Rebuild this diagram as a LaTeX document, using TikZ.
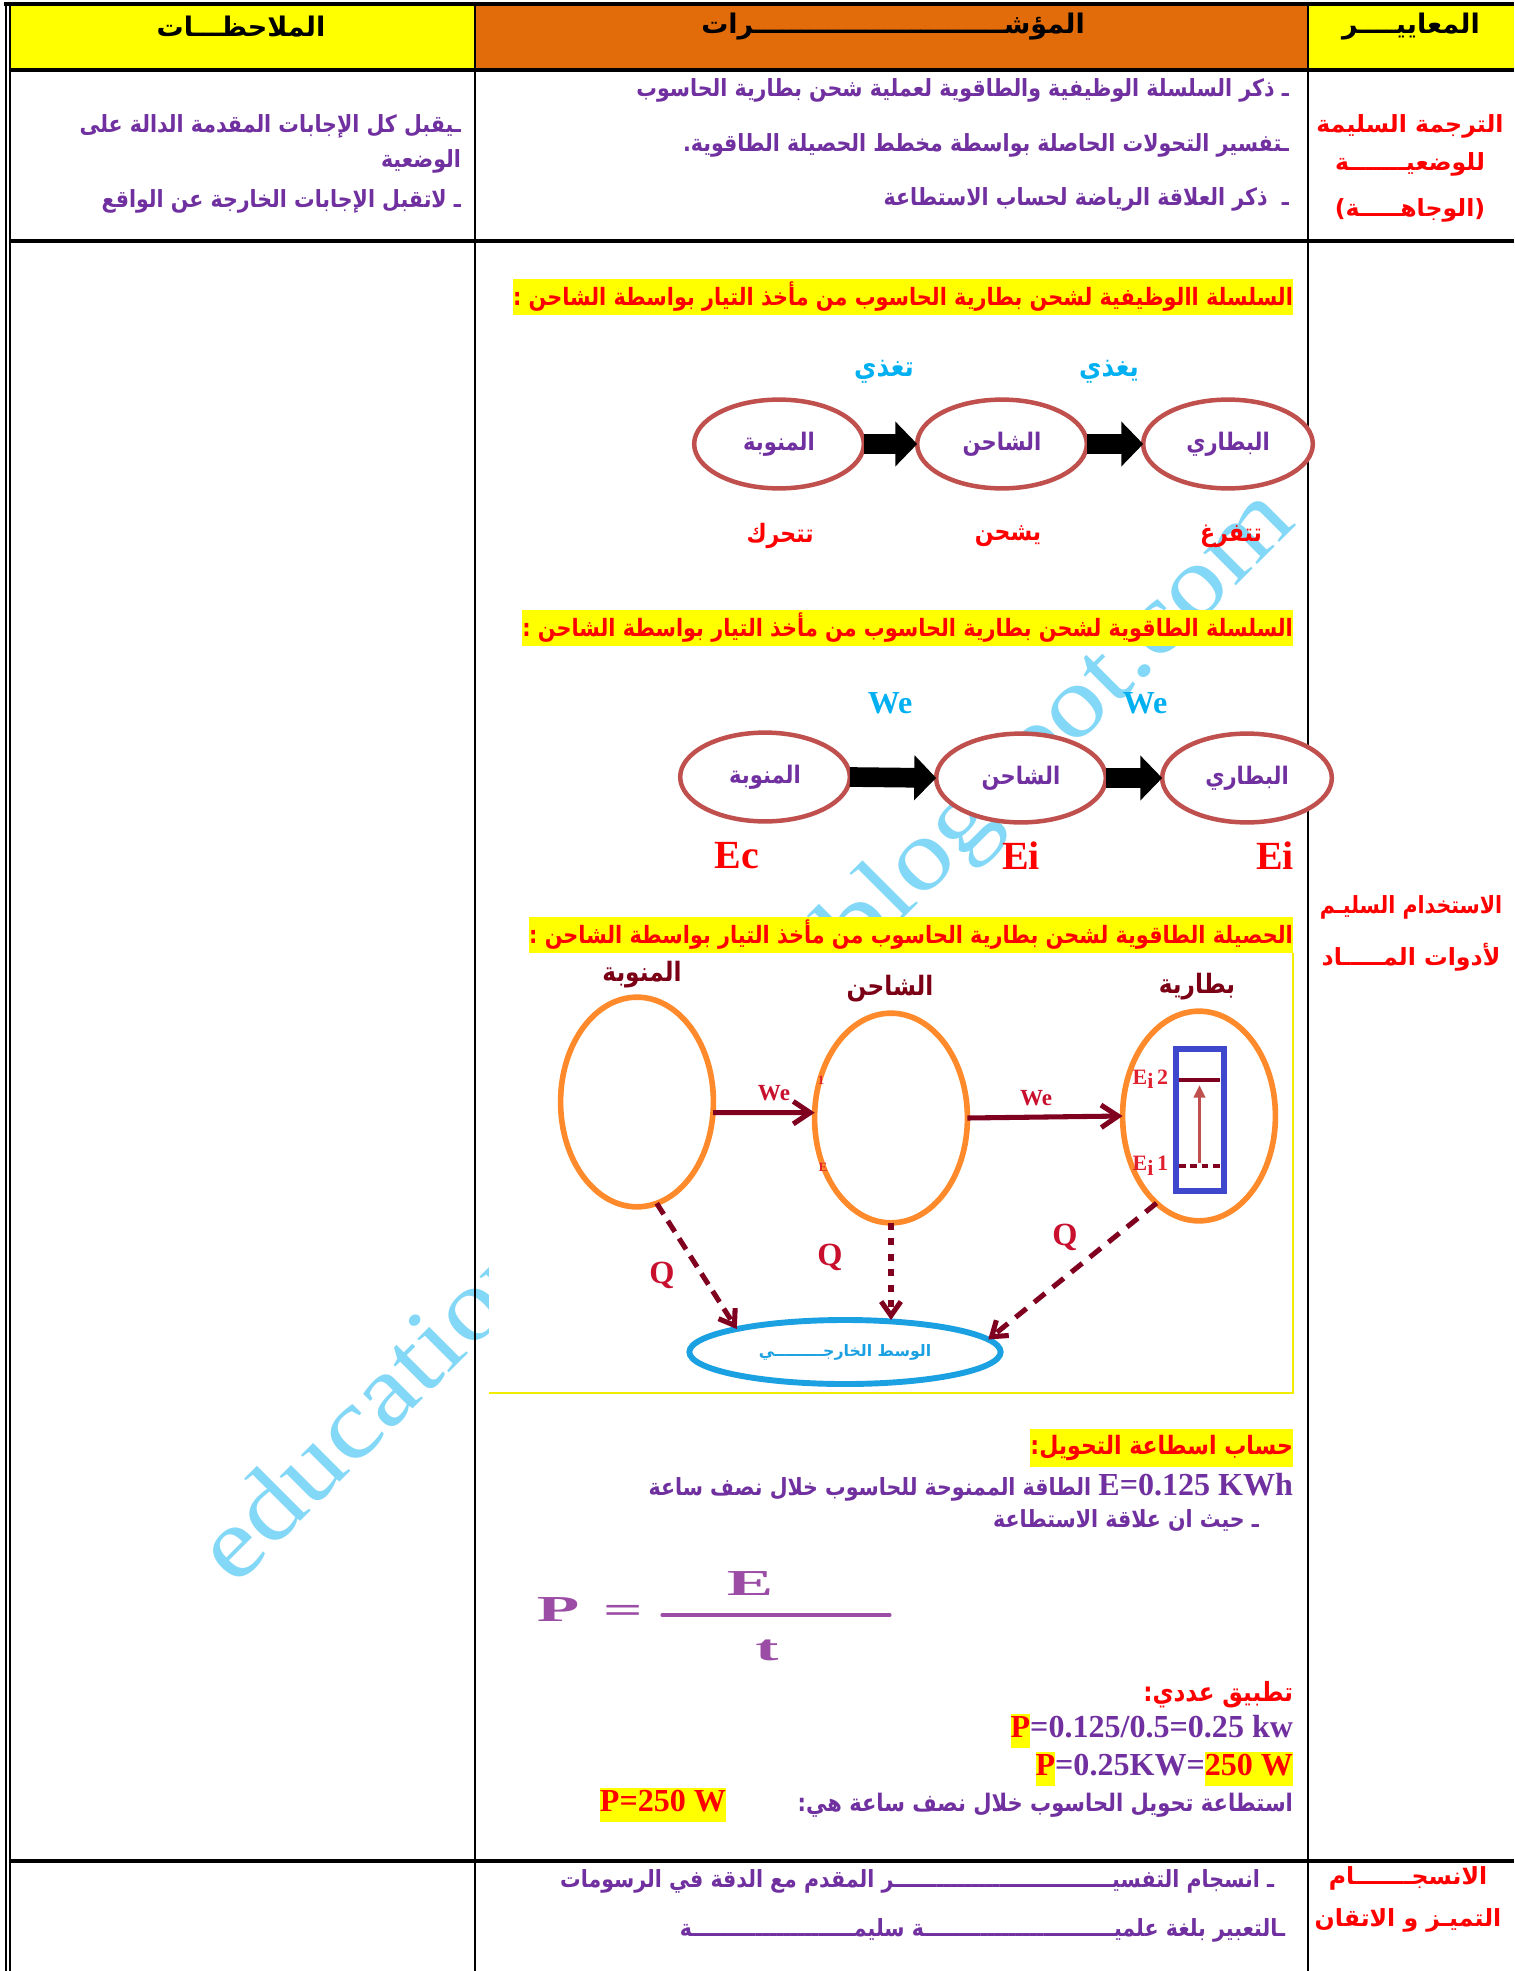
\documentclass[tikz,border=0pt]{standalone}
\usepackage{fontspec}
\usepackage{xcolor}
\usetikzlibrary{arrows.meta,calc,positioning,shapes.geometric}
\TeXXeTstate=1
\newfontfamily\arabicfont[Script=Arabic]{DejaVu Sans}
\newfontfamily\arabicnarrow[Script=Arabic, FakeStretch=0.87]{DejaVu Sans}
\newfontfamily\serifnum{Liberation Serif}
\newfontfamily\formfont[FakeStretch=1.9]{Liberation Serif}
\newfontfamily\markfont[FakeStretch=1.15]{Liberation Serif}

\definecolor{cellyellow}{HTML}{FFFF00}
\definecolor{cellorange}{HTML}{E36C0A}
\definecolor{txtpurple}{HTML}{7030A0}
\definecolor{txtred}{HTML}{FF0000}
\definecolor{txtcyan}{HTML}{00B0F0}
\definecolor{ringred}{HTML}{C0504D}
\definecolor{ringorange}{HTML}{FF8A2B}
\definecolor{flowred}{HTML}{800020}
\definecolor{labred}{HTML}{E0202E}
\definecolor{heatred}{HTML}{C8102E}
\definecolor{boxred}{HTML}{7B0016}
\definecolor{cellblue}{HTML}{3F48CC}
\definecolor{envblue}{HTML}{1BA1E2}
\definecolor{markblue}{HTML}{82D8F6}
\definecolor{formpurple}{HTML}{9B4DA5}
\definecolor{framelemon}{HTML}{F2EC00}

\newcommand{\artxt}[1]{{\arabicfont\bfseries\beginR #1\endR}}
\newcommand{\arntxt}[1]{{\arabicnarrow\bfseries\beginR #1\endR}}
\newcommand{\hlbox}[1]{{\setlength{\fboxsep}{0pt}\colorbox{cellyellow}{\strut #1}}}

\tikzset{
  every node/.style={inner sep=0pt, outer sep=0pt},
  hdtext/.style={font=\fontsize{9.6pt}{11pt}\selectfont, text=black},
  bodytext/.style={font=\fontsize{8.4pt}{10pt}\selectfont, text=txtpurple, anchor=east},
  crittext/.style={font=\fontsize{8.4pt}{10pt}\selectfont, text=txtred},
  titletext/.style={font=\fontsize{8.5pt}{10pt}\selectfont, text=txtred, fill=cellyellow, anchor=east, minimum height=0.46cm},
  feedtext/.style={font=\fontsize{10pt}{11pt}\selectfont, text=txtcyan},
  acttext/.style={font=\fontsize{9pt}{11pt}\selectfont, text=txtred},
  worktext/.style={font=\serifnum\bfseries\fontsize{11.4pt}{12pt}\selectfont, text=txtcyan},
  formtext/.style={font=\serifnum\bfseries\fontsize{14.2pt}{15pt}\selectfont, text=txtred},
  chainring/.style={ellipse, draw=ringred, line width=1.6pt, fill=white, minimum width=2.12cm, minimum height=1.11cm, text=txtpurple, font=\fontsize{8.6pt}{10pt}\selectfont},
  chainarrow/.style={draw=black, line width=7pt, -{Triangle[length=7.8pt,width=15.6pt]}},
  boxlabel/.style={font=\fontsize{9.5pt}{10pt}\selectfont, text=boxred},
  balring/.style={ellipse, draw=ringorange, line width=2pt, minimum width=1.91cm, minimum height=2.62cm},
  envring/.style={ellipse, draw=envblue, line width=2.1pt, minimum width=3.89cm, minimum height=0.8cm, text=envblue, font=\fontsize{5.6pt}{6pt}\selectfont},
  workarrow/.style={draw=flowred, line width=1.8pt, -{Straight Barb[length=6pt,width=8pt]}},
  heatarrow/.style={draw=flowred, line width=1.8pt, -{Straight Barb[length=5pt,width=7pt]}},
  flowlabel/.style={font=\serifnum\bfseries\fontsize{8.2pt}{9pt}\selectfont, text=heatred},
  heattext/.style={font=\serifnum\bfseries\fontsize{11.5pt}{12pt}\selectfont, text=heatred},
  levtext/.style={font=\serifnum\bfseries\fontsize{7.8pt}{8pt}\selectfont, text=labred, anchor=east},
  formula/.style={font=\formfont\bfseries\fontsize{13pt}{14pt}\selectfont, text=formpurple},
  numtext/.style={font=\serifnum\bfseries\fontsize{11.4pt}{12pt}\selectfont, text=txtpurple, anchor=east},
  marktext/.style={font=\markfont\fontsize{35.6pt}{36pt}\selectfont, text=markblue}
}

\begin{document}
\begin{tikzpicture}[x=0.0125cm,y=-0.0125cm]
\useasboundingbox (0,0) rectangle (1514,1971);
\fill[white] (0,0) rectangle (1514,1971);

% Marking the watermark
\node[marktext, rotate=45, anchor=base west] (mark) at (235,1587) {education-onec-dz.blogspot.com};

% Drawing the header cells
\fill[cellyellow] (10,5) rectangle (475,70);
\fill[cellorange] (475,5) rectangle (1308,70);
\fill[cellyellow] (1308,5) rectangle (1514,70);

% Drawing the table rules
\draw[line width=1.4pt] (4,4) -- (1514,4);
\draw[line width=0.6pt] (6,4) -- (6,1971);
\draw[line width=0.6pt] (10,4) -- (10,1971);
\draw[line width=1.1pt] (10,70) -- (1514,70);
\draw[line width=1.1pt] (10,241) -- (1514,241);
\draw[line width=1.1pt] (10,1861) -- (1514,1861);
\draw[line width=0.7pt] (475,4) -- (475,1971);
\draw[line width=0.7pt] (1308,4) -- (1308,1971);

% Marking the header texts
\node[hdtext] (hdnotes) at (241,27) {\artxt{الملاحظـــات}};
\node[hdtext] (hdsigns) at (893,27) {\artxt{المؤشـــــــــــــــــــــــــــرات}};
\node[hdtext] (hdcrit) at (1411,27) {\artxt{المعاييــــر}};

% Marking the first row
\node[bodytext] (indA) at (1289,90) {\arntxt{ـ ذكر السلسلة الوظيفية والطاقوية لعملية شحن بطارية الحاسوب}};
\node[bodytext] (indB) at (1289,145) {\arntxt{ـتفسير التحولات الحاصلة بواسطة مخطط الحصيلة الطاقوية.}};
\node[bodytext] (indC) at (1289,199) {\arntxt{ـ ~ذكر العلاقة الرياضة لحساب الاستطاعة}};
\node[crittext] (critA1) at (1410,126) {\artxt{الترجمة السليمة}};
\node[crittext] (critA2) at (1410,164) {\artxt{للوضعيـــــــة}};
\node[crittext] (critA3) at (1410,210) {\artxt{(الوجاهـــــة)}};
\node[bodytext] (noteA1) at (461,126) {\arntxt{ـيقبل كل الإجابات المقدمة الدالة على}};
\node[bodytext] (noteA2) at (461,161) {\arntxt{الوضعية}};
\node[bodytext] (noteA3) at (461,201) {\arntxt{ـ لاتقبل الإجابات الخارجة عن الواقع}};

% Marking the criteria of the second row
\node[crittext] (critB1) at (1411,907) {\arntxt{الاستخدام السليـم}};
\node[crittext] (critB2) at (1411,957) {\artxt{لأدوات المـــــاد}};

% Drawing the functional chain
\node[titletext] (ttlA) at (1293,297) {\arntxt{السلسلة االوظيفية لشحن بطارية الحاسوب من مأخذ التيار بواسطة الشاحن :}};
\node[chainring] (mnwA) at (779,444) {\arntxt{المنوبة}};
\node[chainring] (shnA) at (1002,444) {\arntxt{الشاحن}};
\node[chainring] (btrA) at (1228,444) {\arntxt{البطاري}};
\draw[chainarrow] (mnwA.east) -- (shnA.west);
\draw[chainarrow] (shnA.east) -- (btrA.west);
\node[feedtext] (feedA) at (884,372) {\arntxt{تغذي}};
\node[feedtext] (feedB) at (1109,372) {\arntxt{يغذي}};
\node[acttext] (actA) at (780,536) {\arntxt{تتحرك}};
\node[acttext] (actB) at (1008,536) {\arntxt{يشحن}};
\node[acttext] (actC) at (1231,536) {\arntxt{تتفرغ}};

% Drawing the energy chain
\node[titletext] (ttlB) at (1293,628) {\arntxt{السلسلة الطاقوية لشحن بطارية الحاسوب من مأخذ التيار بواسطة الشاحن :}};
\node[chainring] (mnwB) at (765,777) {\arntxt{المنوبة}};
\node[chainring] (shnB) at (1021,778) {\arntxt{الشاحن}};
\node[chainring] (btrB) at (1247,778) {\arntxt{البطاري}};
\draw[chainarrow] (mnwB.east) -- (shnB.west);
\draw[chainarrow] (shnB.east) -- (btrB.west);
\node[worktext] (weA) at (890,703) {We};
\node[worktext] (weB) at (1145,703) {We};
\node[formtext] (ecA) at (737,856) {Ec};
\node[formtext] (eiA) at (1021,856) {Ei};
\node[formtext] (eiB) at (1275,856) {Ei};

% Drawing the energy balance
\fill[white] (489,953) rectangle (1293,1393);
\draw[framelemon, line width=0.5pt] (489,1393) -- (1293,1393) -- (1293,953);
\node[titletext] (ttlC) at (1293,935) {\arntxt{الحصيلة الطاقوية لشحن بطارية الحاسوب من مأخذ التيار بواسطة الشاحن :}};
\node[boxlabel] (mnwLbl) at (642,975) {\arntxt{المنوبة}};
\node[boxlabel] (shnLbl) at (890,989) {\arntxt{الشاحن}};
\node[boxlabel] (btrLbl) at (1197,987) {\arntxt{بطارية}};
\node[balring] (mnwC) at (637,1102) {};
\node[balring] (shnC) at (891,1118) {};
\node[balring] (btrC) at (1199,1116) {};
\node[envring] (envC) at (845,1352) {\artxt{الوسط الخارجـــــــــي}};
\draw[workarrow] (mnwC.-8) -- (shnC.176);
\draw[workarrow] (shnC.east) -- (btrC.west);
\node[flowlabel] (weC) at (774,1093) {We};
\node[flowlabel] (weD) at (1036,1098) {We};
\node[font=\serifnum\bfseries\fontsize{4.5pt}{5pt}\selectfont, text=labred] (strayA) at (821,1080) {1};
\node[font=\serifnum\bfseries\fontsize{4.5pt}{5pt}\selectfont, text=labred] (strayB) at (823,1167) {E};

% Drawing the battery levels
\node[draw=cellblue, line width=2.1pt, minimum width=0.6cm, minimum height=1.775cm] (cell) at (1200,1120) {};
\coordinate (lvlTwoA) at (1179,1080);
\coordinate (lvlTwoB) at (1220,1080);
\coordinate (lvlOneA) at (1179,1166);
\coordinate (lvlOneB) at (1220,1166);
\draw[flowred, line width=1.4pt] (lvlTwoA) -- (lvlTwoB);
\draw[flowred, line width=1.4pt, dash pattern=on 2.4pt off 1.6pt] (lvlOneA) -- (lvlOneB);
\draw[ringred, line width=1.2pt, -{Triangle[length=4.5pt,width=4pt]}] ($(lvlOneA)!0.5!(lvlOneB)+(0,-3)$) -- ($(lvlTwoA)!0.5!(lvlTwoB)+(0,5)$);
\node[levtext] (eiTwo) at (1168,1079) {E\raisebox{-0.45ex}{i}\,2};
\node[levtext] (eiOne) at (1168,1166) {E\raisebox{-0.45ex}{i}\,1};

% Drawing the heat losses
\draw[heatarrow, dash pattern=on 4.6pt off 2.8pt] (mnwC.-79) -- (envC.168);
\draw[heatarrow, dash pattern=on 2.5pt off 3pt] (shnC.south) -- (envC.north -| shnC.south);
\draw[heatarrow, dash pattern=on 5pt off 3.5pt] (btrC.-116) -- (envC.5);
\node[heattext] (heatA) at (662,1275) {Q};
\node[heattext] (heatB) at (830,1257) {Q};
\node[heattext] (heatC) at (1065,1237) {Q};

% Marking the power calculation
\node[titletext, font=\fontsize{9pt}{10pt}\selectfont, minimum height=0.475cm] (ttlD) at (1293,1448) {\arntxt{حساب اسطاعة التحويل:}};
\node[bodytext] (lineE) at (1293,1487) {\arntxt{\beginL{\serifnum\bfseries\fontsize{11.4pt}{12pt}\selectfont E=0.125 KWh}\endL{} الطاقة الممنوحة للحاسوب خلال نصف ساعة}};
\node[bodytext] (lineRel) at (1259,1520) {\arntxt{ـ حيث ان علاقة الاستطاعة}};
\node[formula] (powP) at (558,1610) {P};
\node[formula] (powEq) at (623,1614) {=};
\coordinate (barL) at (662,1615);
\coordinate (barR) at (890,1615);
\draw[formpurple, line width=1.1pt, line cap=round] (barL) -- (barR);
\node[formula] (powE) at (750,1584) {E};
\node[formula] (powT) at (767,1650) {t};
\node[acttext, anchor=east, font=\fontsize{9.4pt}{10pt}\selectfont] (ttlE) at (1293,1695) {\arntxt{تطبيق عددي:}};
\node[numtext] (numA) at (1293,1731) {\hlbox{\textcolor{txtred}{P}}=0.125/0.5=0.25 kw};
\node[numtext] (numB) at (1293,1769) {\hlbox{\textcolor{txtred}{P}}=0.25KW=\hlbox{\textcolor{txtred}{250 W}}};
\node[bodytext, font=\fontsize{8.6pt}{10pt}\selectfont] (lineRes) at (1293,1805) {\arntxt{استطاعة تحويل الحاسوب خلال نصف ساعة هي:}};
\node[numtext, anchor=center] (resP) at (663,1805) {\hlbox{\textcolor{txtred}{P=250 W}}};

% Marking the third row
\node[bodytext] (indD) at (1274,1881) {\arntxt{ـ انسجام التفسيـــــــــــــــــــــــــــــــر المقدم مع الدقة في الرسومات}};
\node[bodytext] (indE) at (1285,1930) {\arntxt{ـالتعبير بلغة علميـــــــــــــــــــــــــــة سليمـــــــــــــــــــــــة}};
\node[crittext] (critC1) at (1408,1878) {\artxt{الانسجـــــــام}};
\node[crittext] (critC2) at (1408,1920) {\artxt{التميـز و الاتقان}};
\end{tikzpicture}
\end{document}
